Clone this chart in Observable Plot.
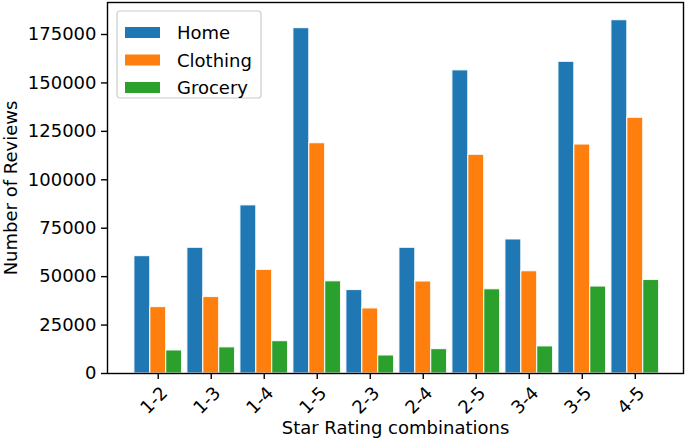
<!DOCTYPE html>
<html>
<head>
<meta charset="utf-8">
<script src="https://cdn.jsdelivr.net/npm/d3@7"></script>
<script src="https://cdn.jsdelivr.net/npm/@observablehq/plot@0.6"></script>
<style>
  body { margin: 0; background: white; }
  #chart { position: relative; width: 685px; height: 444px; }
</style>
</head>
<body>
<div id="chart"></div>
<script>
const categories = ["1-2", "1-3", "1-4", "1-5", "2-3", "2-4", "2-5", "3-4", "3-5", "4-5"];
const series = ["Home", "Clothing", "Grocery"];
const homeValues = [60600, 64900, 86800, 178300, 43100, 64900, 156500, 69200, 160900, 182400];
const clothingValues = [34300, 39500, 53500, 118900, 33600, 47500, 112900, 52800, 118200, 132000];
const groceryValues = [11900, 13500, 16700, 47600, 9300, 12600, 43500, 14000, 44900, 48300];
const colors = ["#1f77b4", "#ff7f0e", "#2ca02c"];
const yTicks = [0, 25000, 50000, 75000, 100000, 125000, 150000, 175000];

const valuesBySeries = [homeValues, clothingValues, groceryValues];
const barWidth = 0.3;
const data = [];
categories.forEach((c, i) => {
  series.forEach((s, j) => {
    const center = i + (j - 1) * barWidth;
    data.push({category: c, series: s, x1: center - barWidth / 2, x2: center + barWidth / 2, value: valuesBySeries[j][i]});
  });
});
const labelData = categories.map((c, i) => ({category: c, i}));

const font = "DejaVu Sans, sans-serif";
const chart = Plot.plot({
  width: 685,
  height: 444,
  marginLeft: 107,
  marginRight: 2,
  marginTop: 2,
  marginBottom: 71,
  style: {fontFamily: font, fontSize: "18px", color: "#000", background: "white"},
  x: {type: "linear", domain: [-0.957, 9.91], axis: null},
  y: {domain: [0, 191520], axis: null},
  color: {domain: series, range: colors},
  marks: [
    Plot.rect(data, {x1: "x1", x2: "x2", y1: 0, y2: "value", fill: "series", stroke: "white", strokeWidth: 1.2, strokeOpacity: 0.85}),
    Plot.frame({stroke: "black", strokeWidth: 1.4}),
    Plot.axisY(yTicks, {tickSize: 6, tickPadding: 5, tickFormat: d3.format("d"), fontSize: 18, strokeWidth: 1.4, label: null}),
    Plot.axisX(d3.range(categories.length), {tickSize: 6, tickFormat: () => "", strokeWidth: 1.4, label: null}),
    Plot.text(labelData, {x: "i", frameAnchor: "bottom", dy: 31, text: "category", rotate: -45, textAnchor: "middle", fontSize: 18}),
    Plot.text(["Number of Reviews"], {frameAnchor: "left", dx: -96, rotate: -90, textAnchor: "middle", fontSize: 18}),
    Plot.text(["Star Rating combinations"], {frameAnchor: "bottom", dy: 60, textAnchor: "middle", fontSize: 18})
  ]
});
document.getElementById("chart").appendChild(chart);

// Legend drawn inside the plot SVG
const svg = d3.select(chart);
const lg = svg.append("g").attr("transform", "translate(117,11)").attr("text-anchor", "start");
lg.append("rect").attr("x", 0).attr("y", 0).attr("width", 144).attr("height", 87)
  .attr("rx", 3).attr("fill", "white").attr("fill-opacity", 0.8).attr("stroke", "#cccccc").attr("stroke-width", 1.2);
series.forEach((s, j) => {
  const row = lg.append("g").attr("transform", `translate(0,${16 + j * 27.5})`);
  row.append("rect").attr("x", 8).attr("y", 0).attr("width", 35).attr("height", 11).attr("fill", colors[j]);
  row.append("text").attr("x", 60).attr("y", 12).attr("text-anchor", "start").attr("font-family", font).attr("font-size", 18).attr("fill", "black").text(s);
});
</script>
</body>
</html>
